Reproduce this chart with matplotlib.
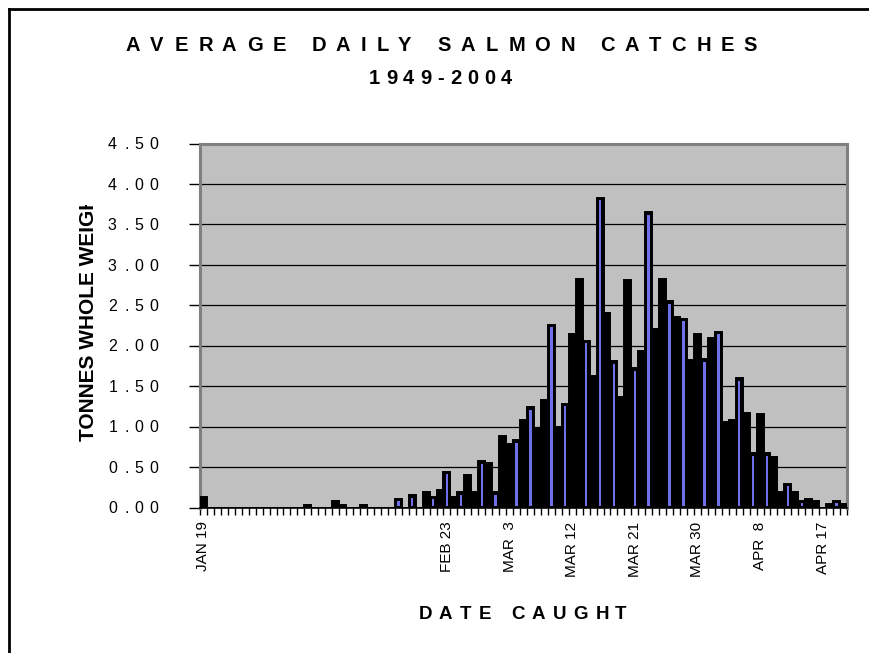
import numpy as np
import matplotlib
matplotlib.use("Agg")
import matplotlib.pyplot as plt
from matplotlib.font_manager import FontProperties, findfont, get_font
from matplotlib.lines import Line2D
from matplotlib.transforms import Bbox
from datetime import date

# ---------------- data ----------------
first_day = date(2004, 1, 19)
n_days = 93
catch_tonnes = [
    0.13, 0, 0, 0, 0, 0, 0, 0, 0, 0,
    0, 0, 0, 0, 0, 0.03, 0, 0, 0, 0.08,
    0.03, 0, 0, 0.03, 0, 0, 0, 0, 0.11, 0,
    0.15, 0, 0.19, 0.13, 0.22, 0.44, 0.13, 0.19, 0.40, 0.19,
    0.57, 0.55, 0.19, 0.89, 0.79, 0.83, 1.08, 1.24, 0.97, 1.33,
    2.26, 1.00, 1.28, 2.15, 2.83, 2.06, 1.62, 3.83, 2.40, 1.81,
    1.37, 2.81, 1.72, 1.93, 3.65, 2.21, 2.83, 2.55, 2.35, 2.33,
    1.82, 2.15, 1.83, 2.10, 2.17, 1.06, 1.08, 1.60, 1.17, 0.67,
    1.15, 0.67, 0.62, 0.19, 0.29, 0.19, 0.08, 0.11, 0.08, 0,
    0.04, 0.08, 0.04,
]
tick_dates = [date(2004, 1, 19), date(2004, 2, 23), date(2004, 3, 3), date(2004, 3, 12),
              date(2004, 3, 21), date(2004, 3, 30), date(2004, 4, 8), date(2004, 4, 17)]
tick_labels = ["JAN 19", "FEB 23", "MAR  3", "MAR 12", "MAR 21", "MAR 30", "APR  8", "APR 17"]
y_ticks = [0.0, 0.5, 1.0, 1.5, 2.0, 2.5, 3.0, 3.5, 4.0, 4.5]
# bars whose blue fill shows through the heavy outline
blue_bar_index = [28, 30, 33, 35, 37, 40, 42, 45, 47, 50, 52, 55, 57, 59, 62, 64, 67,
                  69, 72, 74, 77, 79, 81, 84, 86, 91]

title_1 = "AVERAGE DAILY SALMON CATCHES"
title_2 = "1949-2004"
x_title = "DATE CAUGHT"
y_title = "TONNES WHOLE WEIGHT"

# ---------------- style ----------------
W, H, DPI = 869, 653, 100
FAM = "Liberation Sans"
BLUE = "#7070E8"
PLOT_BG = "#C0C0C0"

fig = plt.figure(figsize=(W / DPI, H / DPI), dpi=DPI)
fig.patch.set_facecolor("white")

left, right, top, bottom = 200, 847, 143.5, 507.5
ax = fig.add_axes([left / W, (H - bottom) / H, (right - left) / W, (bottom - top) / H])
ax.set_facecolor(PLOT_BG)

x = np.arange(n_days)
vals = np.array(catch_tonnes)
ax.bar(x, vals, width=1.0, color="black", edgecolor="black", linewidth=1.4, zorder=3)
bi = np.array(blue_bar_index)
ax.bar(bi, np.maximum(vals[bi] - 0.045, 0.01), bottom=0.015, width=0.36,
       color=BLUE, linewidth=0, zorder=4)

ax.set_xlim(-0.5, n_days - 0.5)
ax.set_ylim(0, 4.5)
ax.set_yticks(y_ticks)
ax.yaxis.grid(True, color="black", linewidth=0.9)
ax.set_axisbelow(True)
ax.tick_params(axis="y", length=8, width=1, color="black", labelleft=False)

tick_pos = [(d - first_day).days for d in tick_dates]
ax.set_xticks(tick_pos)
ax.set_xticklabels(tick_labels, rotation=90, va="top", ha="center",
                   fontsize=11, family=FAM)
ax.set_xticks(np.arange(-0.5, n_days, 1.0), minor=True)
ax.tick_params(axis="x", which="major", length=0, pad=10)
ax.tick_params(axis="x", which="minor", length=5, width=1, color="black")

for s in ("left", "top", "right"):
    ax.spines[s].set_color("#808080")
    ax.spines[s].set_linewidth(2.2)
ax.spines["bottom"].set_color("black")
ax.spines["bottom"].set_linewidth(1.2)


def spaced(s, x_px, y_top_px, size, track, weight="normal", align="center"):
    """Draw letter-spaced text (Excel-style character spacing)."""
    fp = FontProperties(family=FAM, weight=weight, size=size)
    font = get_font(findfont(fp))
    font.set_size(size, DPI)
    advs, bears = [], []
    for ch in s:
        g = font.load_char(ord(ch))
        advs.append(g.linearHoriAdvance / 65536)
        bears.append(g.horiBearingX / 64)
    total = sum(advs) + track * (len(s) - 1)
    if align == "center":
        pen = x_px - total / 2
    elif align == "right":
        pen = x_px - total
    else:
        pen = x_px
    for ch, a, b in zip(s, advs, bears):
        if ch != " ":
            fig.text((pen + b) / W, (H - y_top_px) / H, ch, fontproperties=fp,
                     ha="left", va="baseline")
        pen += a + track


# titles
spaced(title_1, 441, 51, 14.5, 10.0, weight="bold")
spaced(title_2, 440, 84, 14.5, 6.0, weight="bold")
spaced(x_title, 522, 619, 13.5, 7.2, weight="bold")

# y tick labels
fig.canvas.draw()
for v in y_ticks:
    ypix = ax.transData.transform((0, v))[1]
    size = 11.5
    cap = 0.716 * size * DPI / 72
    spaced("%.2f" % v, 158, H - ypix + cap / 2, size, 6.5, align="right")

# y title, clipped like the original
yt = fig.text(88 / W, (H - 441) / H, y_title, rotation=90, ha="center", va="bottom",
              fontsize=15, fontweight="bold", family=FAM)
yt.set_clip_box(Bbox.from_extents(0, 0, W, H - 205))
yt.set_clip_on(True)

# outer chart frame (cropped on right and bottom)
fig.add_artist(Line2D([9 / W, 9 / W], [0, (H - 9) / H], transform=fig.transFigure,
                      color="black", linewidth=2))
fig.add_artist(Line2D([9 / W, 1], [(H - 9) / H, (H - 9) / H], transform=fig.transFigure,
                      color="black", linewidth=2))

fig.savefig("out.png", dpi=DPI)
